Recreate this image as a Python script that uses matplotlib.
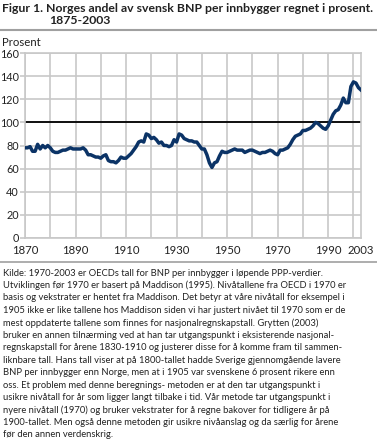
import numpy as np
import matplotlib.pyplot as plt
from matplotlib.lines import Line2D

plt.rcParams['font.family'] = ['Lato', 'DejaVu Sans']

years = np.arange(1870, 2004)
andel = [
    78, 78, 79, 75, 75, 81, 77, 80, 78, 80,   # 1870-1879
    78, 75, 74, 74, 75, 76, 76, 77, 78, 77,   # 1880-1889
    77, 77, 77, 78, 76, 72, 72, 71, 70, 70,   # 1890-1899
    69, 71, 72, 67, 66, 66, 65, 67, 70, 69,   # 1900-1909
    69, 71, 73, 76, 79, 83, 84, 83, 90, 89,   # 1910-1919
    86, 87, 85, 82, 83, 80, 80, 79, 80, 85,   # 1920-1929
    83, 90, 89, 86, 85, 84, 84, 83, 83, 80,   # 1930-1939
    77, 77, 72, 65, 61, 65, 66, 71, 75, 74,   # 1940-1949
    74, 75, 76, 77, 76, 76, 76, 74, 75, 76,   # 1950-1959
    76, 75, 74, 73, 74, 74, 75, 76, 75, 73,   # 1960-1969
    72, 76, 76, 77, 78, 81, 85, 88, 89, 90,   # 1970-1979
    93, 93, 94, 95, 97, 100, 99, 97, 95, 94,  # 1980-1989
    97, 102, 107, 110, 111, 115, 121, 117, 117, 131,  # 1990-1999
    135, 134, 130, 128,                        # 2000-2003
]

xticks = [1870, 1890, 1910, 1930, 1950, 1970, 1990, 2003]
yticks = [0, 20, 40, 60, 80, 100, 120, 140, 160]

tittel = "Figur 1. Norges andel av svensk BNP per innbygger regnet i prosent."
tittel2 = "1875-2003"
fnote = [
    "Kilde: 1970-2003 er OECDs tall for BNP per innbygger i løpende PPP-verdier.",
    "Utviklingen før 1970 er basert på Maddison (1995). Nivåtallene fra OECD i 1970 er",
    "basis og vekstrater er hentet fra Maddison. Det betyr at våre nivåtall for eksempel i",
    "1905 ikke er like tallene hos Maddison siden vi har justert nivået til 1970 som er de",
    "mest oppdaterte tallene som finnes for nasjonalregnskapstall. Grytten (2003)",
    "bruker en annen tilnærming ved at han tar utgangspunkt i eksisterende nasjonal-",
    "regnskapstall for årene 1830-1910 og justerer disse for å komme fram til sammen-",
    "liknbare tall. Hans tall viser at på 1800-tallet hadde Sverige gjennomgående lavere",
    "BNP per innbygger enn Norge, men at i 1905 var svenskene 6 prosent rikere enn",
    "oss. Et problem med denne beregnings- metoden er at den tar utgangspunkt i",
    "usikre nivåtall for år som ligger langt tilbake i tid. Vår metode tar utgangspunkt i",
    "nyere nivåtall (1970) og bruker vekstrater for å regne bakover for tidligere år på",
    "1900-tallet. Men også denne metoden gir usikre nivåanslag og da særlig for årene",
    "før den annen verdenskrig.",
]

W, H = 377, 441
fig = plt.figure(figsize=(W / 100, H / 100), dpi=100)
ax = fig.add_axes([25 / W, 1 - 238 / H, 336 / W, 185 / H])
txt_c = '#222222'

grid_c = '#c8c8c8'
for x in range(1870, 2004, 10):
    ax.axvline(x, color=grid_c, lw=1.2, zorder=1)
for y in yticks:
    ax.axhline(y, color=grid_c, lw=1.2, zorder=1)
ax.axhline(100, color='black', lw=1.3, zorder=2)
ax.plot(years, andel, color='#0b3366', lw=2.5, solid_joinstyle='round', zorder=3)

ax.set_xlim(1870, 2003)
ax.set_ylim(0, 160)
ax.set_xticks(xticks)
ax.set_yticks(yticks)
for s in ax.spines.values():
    s.set_color(grid_c)
    s.set_linewidth(1.2)
ax.tick_params(axis='y', colors=grid_c, length=3.5, width=1.2, labelcolor=txt_c,
               labelsize=7.8, pad=0.8)
ax.tick_params(axis='x', colors=grid_c, length=0, labelcolor=txt_c,
               labelsize=8.2, pad=5)

renderer = fig.canvas.get_renderer()


def fit(t, width_px):
    # krymp/strekk skriftstørrelsen slik at teksten får ønsket bredde
    w = t.get_window_extent(renderer).width
    t.set_fontsize(t.get_fontsize() * width_px / w)


t1 = fig.text(2 / W, 1 - 8 / H, tittel, fontsize=9, fontweight='bold',
              va='center', ha='left', color=txt_c)
fit(t1, 371)
t2 = fig.text(49 / W, 1 - 20 / H, tittel2, fontsize=t1.get_fontsize(), fontweight='bold',
              va='center', ha='left', color=txt_c)
fig.add_artist(Line2D([0, 1], [1 - 30 / H, 1 - 30 / H], color='#a0a0a0', lw=1.5))
fig.text(2 / W, 1 - 42 / H, "Prosent", fontsize=8.2, va='center', ha='left', color=txt_c)
fig.add_artist(Line2D([0, 1], [1 - 262 / H, 1 - 262 / H], color='#a0a0a0', lw=1.2))

t0 = fig.text(3 / W, 1 - 273 / H, fnote[0], fontsize=7, va='center', ha='left', color=txt_c)
fit(t0, 322)
fs = t0.get_fontsize()
for i, line in enumerate(fnote[1:], start=1):
    fig.text(3 / W, 1 - (273 + i * 12.45) / H, line, fontsize=fs,
             va='center', ha='left', color=txt_c)

fig.savefig('out.png', dpi=100)
